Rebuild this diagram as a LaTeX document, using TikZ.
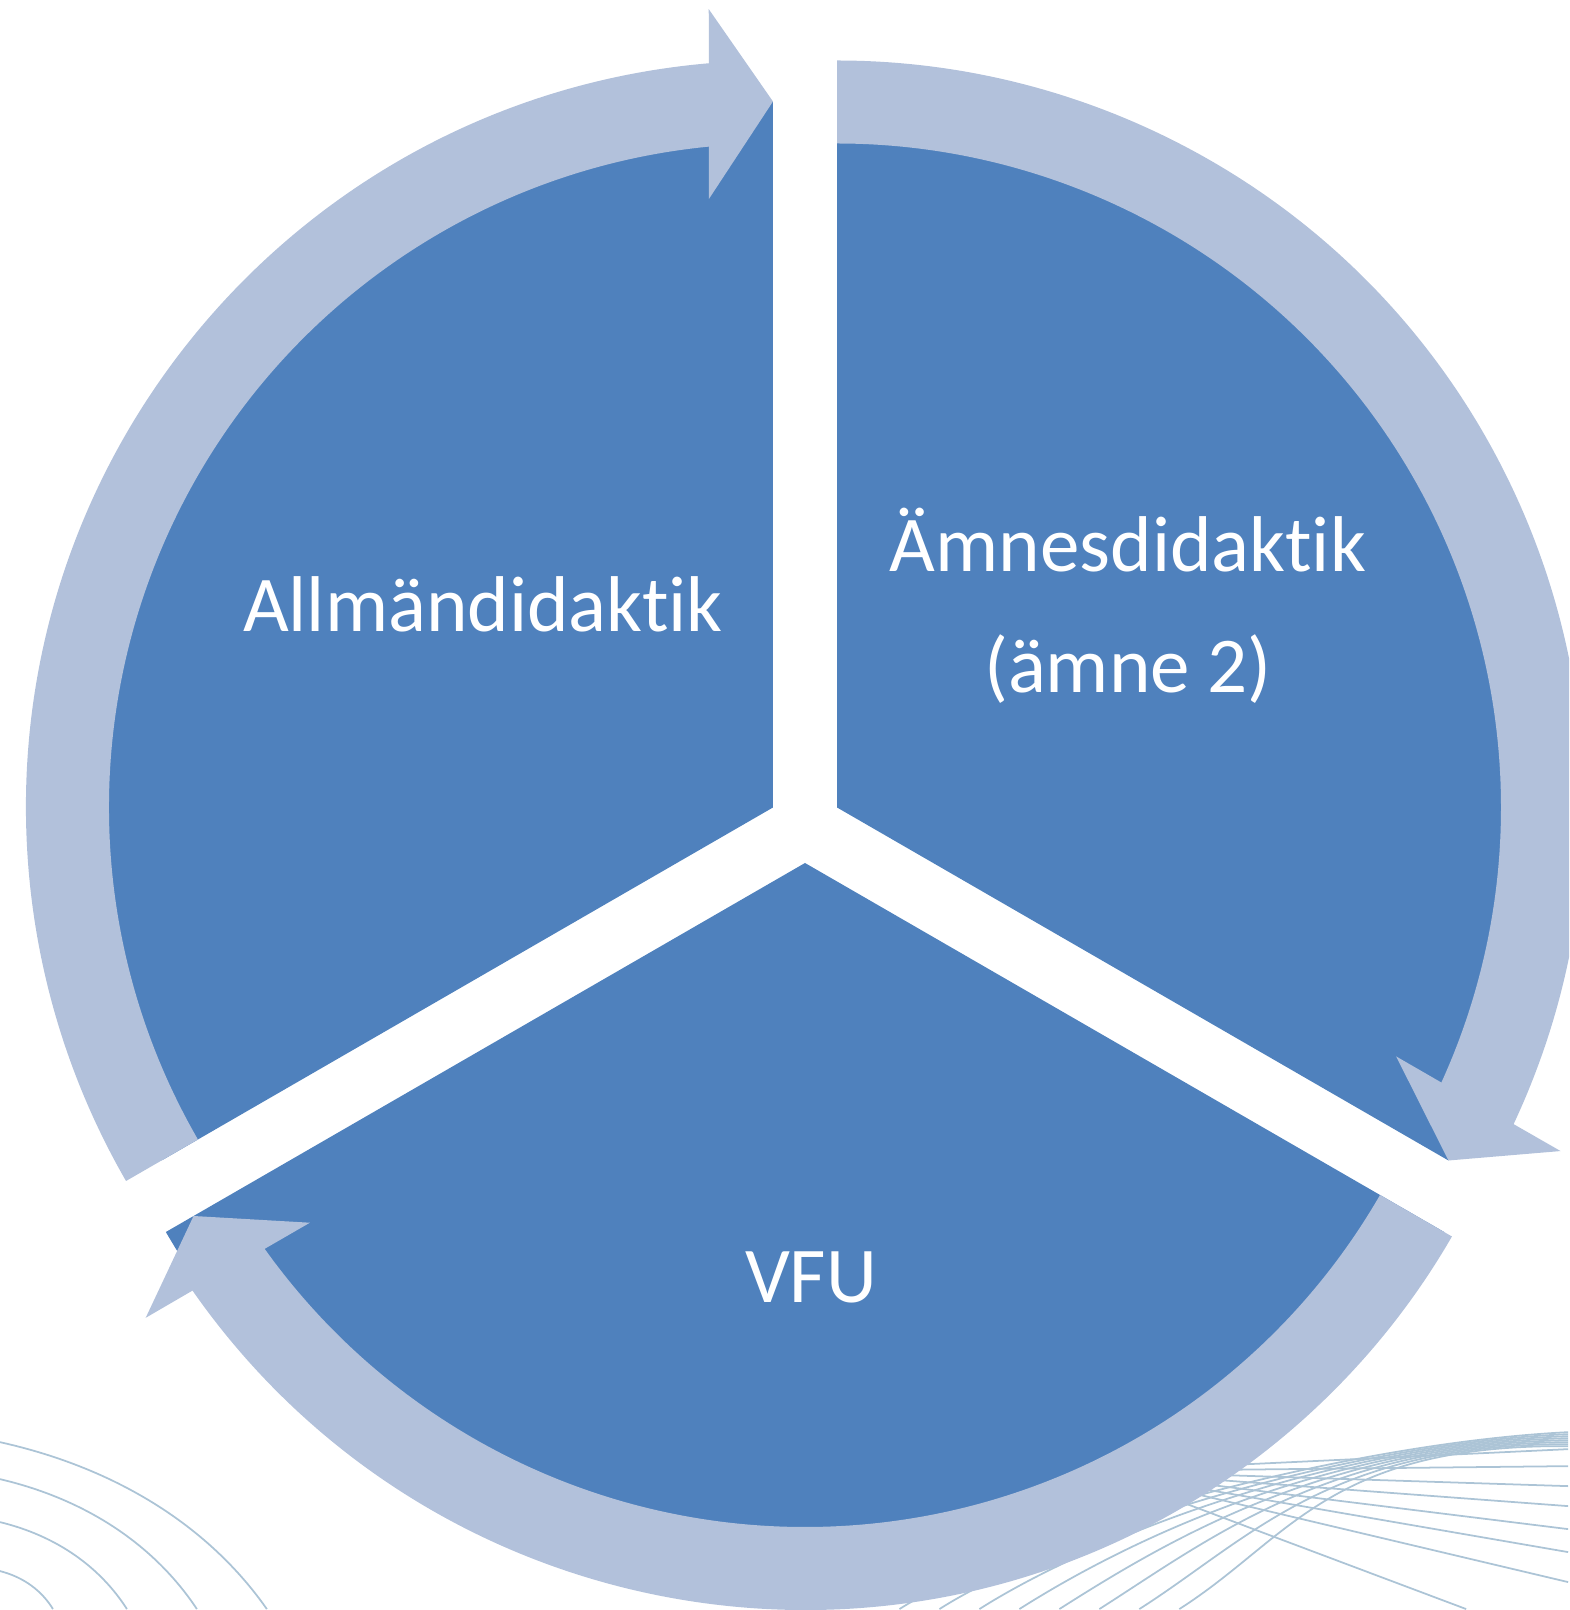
\documentclass[tikz,border=0pt]{standalone}
\usepackage{fontspec}
\setmainfont{Carlito}[Ligatures=NoCommon]
\definecolor{segblue}{RGB}{79,129,189}
\definecolor{ringblue}{RGB}{178,193,219}
\definecolor{meshblue}{RGB}{172,196,214}
\tikzset{
  sector/.style={fill=segblue},
  ringarrow/.style={fill=ringblue},
  meshline/.style={draw=meshblue, line width=0.5pt},
  lbl/.style={text=white, inner sep=0pt, font=\fontsize{22.5}{34.7}\selectfont}
}
\begin{document}
\begin{tikzpicture}
	\path[use as bounding box, clip] (0,0) rectangle (15.69,16.10);
	% faint background lines (pixel units)
	\begin{scope}[shift={(0,16.10)}, x=0.01cm, y=-0.01cm]
		\foreach \a/\h in {267/167,197/130,127/87,53/38}
			\draw[meshline] (0,1610-\h) .. controls ({0.45*\a},{1610-0.84*\h}) and ({0.79*\a},{1610-0.48*\h}) .. (\a,1610);
		\foreach \e in {1450,1467,1487,1507,1530,1553,1583}
			\draw[meshline] (1100,1472) -- (1569,\e);
		\draw[meshline] (1100,1472) -- (1467,1610);
		\foreach \i in {0,...,7}
			\draw[meshline] (900+40*\i,1610) .. controls (1010+40*\i,1540) and (1330,1445) .. (1569,1433+2*\i);
	\end{scope}
	\begin{scope}[shift={(8.05,7.84)}]
		% the three segments
		\foreach \b/\r in {150/7.06,30/7.06,270/7.38}
		{
			\pgfmathsetmacro\st{\b+60}
			\pgfmathsetmacro\en{\b-60}
			\fill[sector] (\b:0.37) -- ++(\st:\r) arc[start angle=\st, end angle=\en, radius=\r] -- cycle;
		}
		% the circular arrows
		\foreach \b in {150,30,270}
		{
			\pgfmathsetmacro\st{\b+60}
			\pgfmathsetmacro\tp{\b-60}
			\pgfmathsetmacro\ai{\tp+5.53}
			\pgfmathsetmacro\hi{\tp+6.0}
			\pgfmathsetmacro\ho{\tp+4.6}
			\pgfmathsetmacro\ao{\tp+4.92}
			\begin{scope}[shift={(\b:0.37)}]
				\fill[ringarrow] (\st:6.64) arc[start angle=\st, end angle=\ai, radius=6.64]
					-- (\hi:6.12) -- (\tp:7.06) -- (\ho:8.01) -- (\ao:7.47)
					arc[start angle=\ao, end angle=\st, radius=7.47] -- cycle;
			\end{scope}
		}
	\end{scope}
	\node[lbl, anchor=base] (allman) at (4.83,9.78) {Allmändidaktik};
	\node[lbl, anchor=base, align=center] (amnes) at (11.28,9.17) {Ämnesdidaktik\\(ämne 2)};
	\node[lbl, anchor=base] (vfu) at (8.11,3.07) {VFU};
\end{tikzpicture}
\end{document}
